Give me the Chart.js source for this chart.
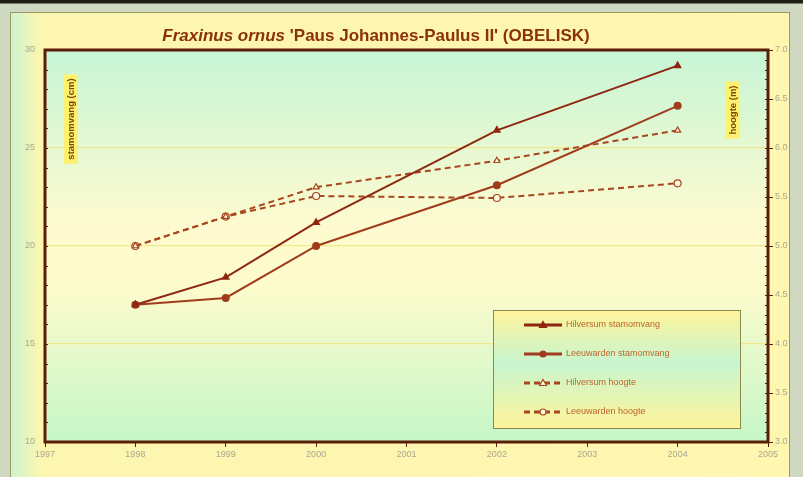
<!DOCTYPE html>
<html>
<head>
<meta charset="utf-8">
<script src="https://cdn.jsdelivr.net/npm/chart.js@4.4.1/dist/chart.umd.min.js"></script>
<style>
  html, body { margin: 0; padding: 0; background: #2a2a22; }
  #wrap { position: relative; width: 803px; height: 477px;
    background: linear-gradient(180deg, #1e1e18 0px, #1e1e18 3px, #cfd8c0 4px, #cfd8c0 100%); }
  #panel { position: absolute; left: 10px; top: 12px; width: 780px; height: 465px; box-sizing: border-box;
    border: 1px solid #9a9a60; border-bottom: none;
    background: linear-gradient(90deg, #cdf3cf 0px, #fdf6b0 30px, #fff6b0 100%); }
  canvas { position: absolute; left: 0; top: 0; }
</style>
</head>
<body>
<div id="wrap">
  <div id="panel"></div>
  <canvas id="myChart" width="803" height="477"></canvas>
</div>
<script>
const years = [1998, 1999, 2000, 2002, 2004];
const hilversumStam = [17.0, 18.4, 21.2, 25.9, 29.2];
const leeuwardenStam = [17.0, 17.35, 20.0, 23.1, 27.15];
const hilversumHoogte = [5.0, 5.3, 5.6, 5.87, 6.18];
const leeuwardenHoogte = [5.0, 5.3, 5.51, 5.49, 5.64];
const seriesNames = ['Hilversum stamomvang', 'Leeuwarden stamomvang', 'Hilversum hoogte', 'Leeuwarden hoogte'];

const toPoints = vals => vals.map((v, i) => ({ x: years[i], y: v }));

// achtergrond van het plotvlak + rand + titel + aslabels + legenda
const decor = {
  id: 'decor',
  beforeDraw(chart) {
    const { ctx, chartArea: a } = chart;
    const g = ctx.createLinearGradient(0, a.top, 0, a.bottom);
    g.addColorStop(0, '#c6f5d6');
    g.addColorStop(0.45, '#fffbd0');
    g.addColorStop(0.6, '#fdfbcc');
    g.addColorStop(1, '#c6f7c8');
    ctx.save();
    ctx.fillStyle = g;
    ctx.fillRect(a.left, a.top, a.right - a.left, a.bottom - a.top);
    ctx.restore();
  },
  afterDatasetsDraw(chart) {
    const { ctx, chartArea: a } = chart;
    ctx.save();
    // rand rondom
    ctx.strokeStyle = '#5a1e08';
    ctx.lineWidth = 3;
    ctx.strokeRect(a.left, a.top, a.right - a.left, a.bottom - a.top);

    // kleine streepjes langs de y-assen
    ctx.lineWidth = 1;
    const yl = chart.scales.y, yr = chart.scales.y2;
    for (let v = 10; v <= 30; v += 1) {
      const p = Math.round(yl.getPixelForValue(v)) + 0.5;
      ctx.beginPath(); ctx.moveTo(a.left, p); ctx.lineTo(a.left + 3, p); ctx.stroke();
    }
    for (let k = 30; k <= 70; k += 1) {
      const p = Math.round(yr.getPixelForValue(k / 10)) + 0.5;
      ctx.beginPath(); ctx.moveTo(a.right - 3, p); ctx.lineTo(a.right, p); ctx.stroke();
    }

    // titel
    const fIt = 'italic bold 17px "Liberation Sans", Arial, sans-serif';
    const fBd = 'bold 17px "Liberation Sans", Arial, sans-serif';
    const t1 = 'Fraxinus ornus';
    const t2 = " 'Paus Johannes-Paulus II' (OBELISK)";
    ctx.font = fIt;
    const w1 = ctx.measureText(t1).width;
    ctx.font = fBd;
    const w2 = ctx.measureText(t2).width;
    const x = 376 - (w1 + w2) / 2;
    ctx.fillStyle = '#8a3208';
    ctx.textBaseline = 'middle';
    ctx.font = fIt;
    ctx.fillText(t1, x, 36);
    ctx.font = fBd;
    ctx.fillText(t2, x + w1, 36);

    // aslabels (gedraaid, in het plotvlak)
    const axisLabel = (text, cx, cy) => {
      ctx.save();
      ctx.translate(cx, cy);
      ctx.rotate(-Math.PI / 2);
      ctx.font = 'bold 9.5px "Liberation Sans", Arial, sans-serif';
      const w = ctx.measureText(text).width;
      ctx.fillStyle = '#fff170';
      ctx.fillRect(-w / 2 - 4, -7, w + 8, 14);
      ctx.fillStyle = '#7a4a00';
      ctx.textAlign = 'center';
      ctx.textBaseline = 'middle';
      ctx.fillText(text, 0, 0);
      ctx.restore();
    };
    axisLabel('stamomvang (cm)', 71, 119);
    axisLabel('hoogte (m)', 733, 110);

    // legenda
    const lx = 493, ly = 310, lw = 247, lh = 118;
    const lg = ctx.createLinearGradient(0, ly, 0, ly + lh);
    lg.addColorStop(0, '#fff49a');
    lg.addColorStop(0.45, '#c8f5d0');
    lg.addColorStop(1, '#fff49a');
    ctx.fillStyle = lg;
    ctx.fillRect(lx, ly, lw, lh);
    ctx.strokeStyle = '#8a8a50';
    ctx.lineWidth = 1;
    ctx.strokeRect(lx + 0.5, ly + 0.5, lw, lh);
    chart.data.datasets.forEach((ds, i) => {
      const yy = 325 + i * 29;
      ctx.strokeStyle = ds.borderColor;
      ctx.lineWidth = ds.borderWidth + 1;
      ctx.setLineDash(ds.borderDash || []);
      ctx.beginPath();
      ctx.moveTo(524, yy);
      ctx.lineTo(562, yy);
      ctx.stroke();
      ctx.setLineDash([]);
      ctx.lineWidth = 1.2;
      ctx.fillStyle = ds.pointBackgroundColor;
      ctx.beginPath();
      if (ds.pointStyle === 'triangle') {
        ctx.moveTo(543, yy - 3.5); ctx.lineTo(546.5, yy + 2.5); ctx.lineTo(539.5, yy + 2.5); ctx.closePath();
      } else {
        ctx.arc(543, yy, 3, 0, Math.PI * 2);
      }
      ctx.fill();
      ctx.stroke();
      ctx.fillStyle = '#c0642a';
      ctx.font = '9px "Liberation Sans", Arial, sans-serif';
      ctx.textBaseline = 'middle';
      ctx.fillText(ds.label, 566, yy);
    });
    ctx.restore();
  }
};

new Chart(document.getElementById('myChart').getContext('2d'), {
  type: 'line',
  data: {
    datasets: [
      {
        label: seriesNames[0], data: toPoints(hilversumStam), yAxisID: 'y',
        borderColor: '#8e2610', borderWidth: 2, pointStyle: 'triangle', pointRadius: 3,
        pointBackgroundColor: '#8e2610', pointBorderColor: '#8e2610'
      },
      {
        label: seriesNames[1], data: toPoints(leeuwardenStam), yAxisID: 'y',
        borderColor: '#a03c1c', borderWidth: 2, pointStyle: 'circle', pointRadius: 3,
        pointBackgroundColor: '#a03c1c', pointBorderColor: '#a03c1c'
      },
      {
        label: seriesNames[2], data: toPoints(hilversumHoogte), yAxisID: 'y2',
        borderColor: '#a8461e', borderWidth: 2, borderDash: [6, 4], pointStyle: 'triangle', pointRadius: 3.5,
        pointBackgroundColor: '#fffbe0', pointBorderColor: '#a8461e', pointBorderWidth: 1.2
      },
      {
        label: seriesNames[3], data: toPoints(leeuwardenHoogte), yAxisID: 'y2',
        borderColor: '#a8461e', borderWidth: 2, borderDash: [6, 4], pointStyle: 'circle', pointRadius: 3.5,
        pointBackgroundColor: '#fffbe0', pointBorderColor: '#a8461e', pointBorderWidth: 1.2
      }
    ]
  },
  options: {
    responsive: false,
    animation: false,
    layout: { padding: { top: 50, left: 0, right: 0, bottom: 0 } },
    plugins: { legend: { display: false }, tooltip: { enabled: false } },
    scales: {
      x: {
        type: 'linear', min: 1997, max: 2005,
        afterFit: s => { s.height = 35; },
        grid: { display: true, drawOnChartArea: false, drawTicks: true, tickLength: 5, color: '#5a1e08' },
        border: { display: false },
        ticks: { stepSize: 1, color: '#a8a890', font: { size: 9, family: 'Liberation Sans' }, padding: 2,
          callback: v => String(v) }
      },
      y: {
        position: 'left', min: 10, max: 30,
        afterFit: s => { s.width = 45; },
        grid: { color: ctx => (ctx.tick.value === 10 || ctx.tick.value === 30) ? 'rgba(0,0,0,0)' : '#f2e88a',
          lineWidth: 1.2, drawTicks: false },
        border: { display: false },
        ticks: { stepSize: 5, color: '#a8a890', font: { size: 9, family: 'Liberation Sans' }, padding: 10 }
      },
      y2: {
        position: 'right', min: 3, max: 7,
        afterFit: s => { s.width = 35; },
        grid: { drawOnChartArea: false, drawTicks: true, tickLength: 5, color: '#5a1e08' },
        border: { display: false },
        ticks: { stepSize: 0.5, color: '#a8a890', font: { size: 9, family: 'Liberation Sans' }, padding: 2,
          callback: v => v.toFixed(1) }
      }
    }
  },
  plugins: [decor]
});
</script>
</body>
</html>
